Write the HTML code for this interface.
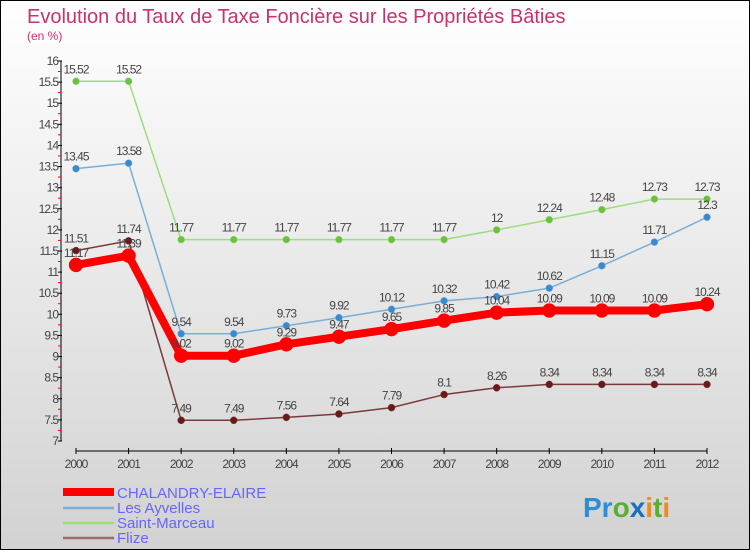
<!DOCTYPE html>
<html><head><meta charset="utf-8"><style>
body{margin:0}
#c{width:748px;height:548px;border:1px solid #000;background:linear-gradient(#fff,#d2d2d2);position:relative;font-family:"Liberation Sans",sans-serif;overflow:hidden}
</style></head><body>
<div id="c">
<svg id="s" width="748" height="548" xmlns="http://www.w3.org/2000/svg">
<text x="26" y="22" font-size="20" fill="#c8336d">Evolution du Taux de Taxe Foncière sur les Propriétés Bâties</text>
<text x="26" y="39" font-size="12" fill="#c8336d">(en %)</text>
<g id="axes"></g><g id="series"></g>
<g font-size="15" fill="#6666ff">
<line x1="62" y1="491" x2="113" y2="491" stroke="#f00" stroke-width="8"/>
<text x="116" y="497">CHALANDRY-ELAIRE</text>
<line x1="62" y1="507" x2="113" y2="507" stroke="#7aaed6" stroke-width="2.5"/>
<text x="116" y="512">Les Ayvelles</text>
<line x1="62" y1="522" x2="113" y2="522" stroke="#9cdd7c" stroke-width="2.5"/>
<text x="116" y="527">Saint-Marceau</text>
<line x1="62" y1="537" x2="113" y2="537" stroke="#9c6a6a" stroke-width="2.5"/>
<text x="116" y="542">Flize</text>
</g>
<text x="582" y="516" font-size="28" font-weight="bold"><tspan fill="#2a8fd6">Pr</tspan><tspan fill="#58b030">o</tspan><tspan fill="#1a6fc0">x</tspan><tspan fill="#f08a1a">i</tspan><tspan fill="#58b030">t</tspan><tspan fill="#f08a1a">i</tspan></text>
</svg></div>
<script>
const years=[2000,2001,2002,2003,2004,2005,2006,2007,2008,2009,2010,2011,2012];
const chalandry=[11.17,11.39,9.02,9.02,9.29,9.47,9.65,9.85,10.04,10.09,10.09,10.09,10.24];
const ayvelles=[13.45,13.58,9.54,9.54,9.73,9.92,10.12,10.32,10.42,10.62,11.15,11.71,12.3];
const marceau=[15.52,15.52,11.77,11.77,11.77,11.77,11.77,11.77,12,12.24,12.48,12.73,12.73];
const flize=[11.51,11.74,7.49,7.49,7.56,7.64,7.79,8.1,8.26,8.34,8.34,8.34,8.34];
const yTicks=[7,7.5,8,8.5,9,9.5,10,10.5,11,11.5,12,12.5,13,13.5,14,14.5,15,15.5,16];
const NS="http://www.w3.org/2000/svg";
const X=i=>75+i*(631/12), Y=v=>440-(v-7)*(380/9);
function mk(t,a,p){const e=document.createElementNS(NS,t);for(const k in a)e.setAttribute(k,a[k]);p.appendChild(e);return e;}
const ax=document.getElementById('axes');
let l=mk('line',{x1:60,y1:60,x2:60,y2:440,stroke:'#000'},ax);


l=mk('line',{x1:75,y1:450,x2:706,y2:450,stroke:'#000'},ax);


yTicks.forEach(v=>{
 const y=Y(v);
 mk('line',{x1:57,y1:y,x2:61,y2:y,stroke:'#000'},ax);
 if(v>7) mk('line',{x1:57,y1:y+10.5,x2:60,y2:y+10.5,stroke:'#f00'},ax);
 const t=mk('text',{x:57,y:y+4,'font-size':12,fill:'#444','text-anchor':'end','letter-spacing':'-1'},ax);t.textContent=v;
 
 
});
years.forEach((yr,i)=>{
 mk('line',{x1:X(i),y1:447,x2:X(i),y2:453,stroke:'#000'},ax);
 const t=mk('text',{x:X(i),y:467,'font-size':12,fill:'#444','text-anchor':'middle','letter-spacing':'-1'},ax);t.textContent=yr;
 
 
});
const sg=document.getElementById('series');
function draw(vals,color,fill,w,r,name){
 const g=mk('g',{},sg);
 
 
 mk('polyline',{points:vals.map((v,i)=>X(i)+','+Y(v)).join(' '),fill:'none',stroke:color,'stroke-width':w,'stroke-linejoin':'round'},g);
 vals.forEach((v,i)=>{
  const c=mk('circle',{cx:X(i),cy:Y(v),r:r,fill:fill,stroke:color,'stroke-width':0.5},g);
  
  
  const t=mk('text',{x:X(i),y:Y(v)-8,'font-size':12,fill:'#444','text-anchor':'middle','letter-spacing':'-1'},g);t.textContent=v;
  
  
 });
}
draw(marceau,'#9cdd7c','#6cc040',1.5,3.5,'saint-marceau');
draw(ayvelles,'#7aaed6','#3a8ad0',1.5,3.5,'ayvelles');
draw(flize,'#7a3a3a','#6a1a1a',1.5,3.5,'flize');
draw(chalandry,'#f00','#f00',8,7,'chalandry');
</script>
</body></html>
